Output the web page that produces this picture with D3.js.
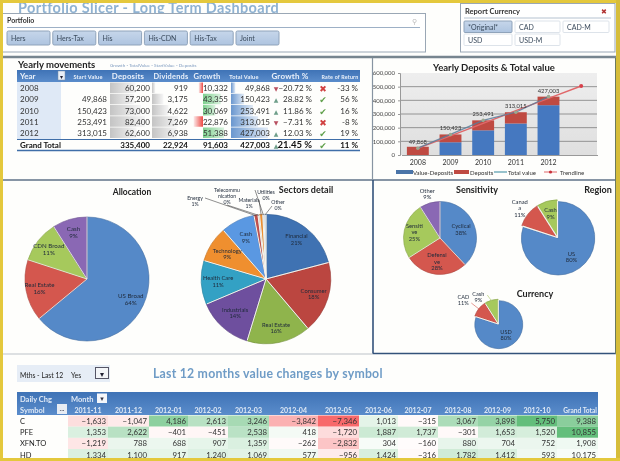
<!DOCTYPE html>
<html><head><meta charset="utf-8">
<script src="https://cdn.jsdelivr.net/npm/d3@7"></script>
<style>
html,body{margin:0;padding:0;background:#fff;overflow:hidden}
svg{display:block;filter:blur(0.4px)}
text{font-family:Lato,"Open Sans",sans-serif}
</style></head><body>
<svg id="c" width="620" height="461"></svg>
<script>
// ---------- DATA ----------
const portfolioButtons = ["Hers","Hers-Tax","His","His-CDN","His-Tax","Joint"];
const currencyButtons = ["*Original*","CAD","CAD-M","USD","USD-M"];

const years = ["2008","2009","2010","2011","2012"];
const startValues = [null,49868,150423,253491,313015];
const deposits = [60200,57200,73000,82400,62600];
const dividends = [919,3175,4622,7269,6938];
const growth = [-10332,43355,30069,-22876,51388];
const totalValues = [49868,150423,253491,313015,427003];
const growthPct = [-20.72,28.82,11.86,-7.31,12.03];
const rateOfReturn = [-33,56,16,-8,19];
const grandTotals = {deposits:335400,dividends:22924,growth:91603,total:427003,pct:21.45,rate:11};

const chartCats = ["2008","2009","2010","2011","2012"," "];
const valueDeposits = [0,93223,180491,230615,364403];
const trendValues = [48000,140000,232000,324000,415000,505000];
const chartTicks = [0,100000,200000,300000,400000,500000,600000];

const allocNames = ["US Broad","Real Estate","CDN Broad","Cash"];
const allocValues = [64,16,11,9];
const sectorNames = ["Financial","Consumer","Real Estate","Industrials","Health Care","Technology","Cash","Energy","Telecommu\nnication","Materials","Utilities","Other"];
const sectorValues = [21,18,16,14,11,9,8.5,1,0.4,0.8,0.3,0.5];
const sectorPctLabels = ["21%","18%","16%","14%","11%","9%","9%","1%","0%","1%","0%","0%"];
const sensNames = ["Cyclical","Defensi\nve","Sensiti\nve","Other"];
const sensValues = [38,28,25,9];
const regionNames = ["US","Canad\na","Cash"];
const regionValues = [80,11,9];
const currNames = ["USD","CAD","Cash"];
const currValues = [80,11,9];

const monthNames = ["2011-11","2011-12","2012-01","2012-02","2012-03","2012-04","2012-05","2012-06","2012-07","2012-08","2012-09","2012-10"];
const symbols = ["C","PFE","XFN.TO","HD"];
const rowC = [-1633,-1047,4186,2613,3246,-3842,-7346,1013,-315,3067,3898,5750];
const rowPFE = [1353,2622,-401,-451,2538,418,-1720,1887,1737,-301,1653,1520];
const rowXFN = [-1219,788,688,907,1359,-262,-2832,304,-160,880,704,752];
const rowHD = [1334,1100,917,1240,1069,577,-956,1424,-316,1782,1412,593];
const rowTotals = [9388,10855,1908,10175];
const rowTotalShades = [0.75,1,0.1,0.05];

// ---------- LAYOUT ----------
const svg = d3.select("#c");
const fmt = d3.format(",");
function T(g,x,y,s,o={}){
  const t=g.append("text").attr("x",x).attr("y",y).text(s)
    .attr("font-size",o.size||7.5).attr("fill",o.fill||"#222")
    .attr("font-weight",o.bold?"700":"400").attr("text-anchor",o.anchor||"start");
  if(o.family) t.style("font-family",o.family);
  if(o.ls) t.attr("letter-spacing",o.ls);
  return t;
}
const defs = svg.append("defs");
function grad(id,c1,c2,vertical){
  const g=defs.append("linearGradient").attr("id",id);
  if(vertical) g.attr("x2",0).attr("y2",1);
  g.append("stop").attr("offset","0").attr("stop-color",c1);
  g.append("stop").attr("offset","1").attr("stop-color",c2);
}
grad("gGray","#c4c4c4","#f6f6f6");
grad("gBlue","#6a97cf","#e2ebf6");
grad("gGreen","#7fd08f","#d9f2de");
grad("gRed","#fbeaea","#ee4a44");
grad("gPlot","#eeeeee","#dfdfdf",true);
grad("gBtn","#c6d6ea","#aec4e0",true);
grad("gHead","#3f73b6","#5a8ccb",true);

svg.append("rect").attr("width",620).attr("height",461).attr("fill","#fefefc");

// top title + slicers
const top_=svg.append("g");
T(top_,18,13,"Portfolio Slicer - Long Term Dashboard",{size:14.5,bold:true,fill:"#8fb2d2",ls:0.35});
top_.append("rect").attr("x",2.5).attr("y",13.5).attr("width",423).attr("height",38.5).attr("fill","#fff").attr("stroke","#9aa7b5");
T(top_,7,23,"Portfolio",{size:7,bold:true,fill:"#333"});
top_.append("line").attr("x1",7).attr("x2",420).attr("y1",27.5).attr("y2",27.5).attr("stroke","#9db0c6");
T(top_,412,24,"⚲",{size:7,fill:"#bbb"});
const pbX=d3.scalePoint().domain(portfolioButtons).range([7,236]);
portfolioButtons.forEach(b=>{
  top_.append("rect").attr("x",pbX(b)).attr("y",31).attr("width",43).attr("height",14).attr("rx",1.5)
    .attr("fill","url(#gBtn)").attr("stroke","#8fa3ba");
  T(top_,pbX(b)+4,41,b,{size:7,fill:"#3a4a5c"});
});
top_.append("rect").attr("x",460.5).attr("y",3.5).attr("width",154.5).attr("height",48.5).attr("fill","#fff").attr("stroke","#9aa7b5");
T(top_,465,14,"Report Currency",{size:7.5,bold:true,fill:"#333"});
T(top_,601,14,"✖",{size:7,fill:"#b03030",family:"DejaVu Sans"});
top_.append("line").attr("x1",464).attr("x2",611).attr("y1",18).attr("y2",18).attr("stroke","#b5c2d0");
const cbPos=[[464,21,48],[515,21,45],[563,21,46],[464,34,48],[515,34,45]];
currencyButtons.forEach((b,i)=>{
  const p=cbPos[i];
  top_.append("rect").attr("x",p[0]).attr("y",p[1]).attr("width",p[2]).attr("height",11.5).attr("rx",1)
    .attr("fill",i==0?"url(#gBtn)":"#fff").attr("stroke",i==0?"#8fa3ba":"#dde3ea");
  T(top_,p[0]+4,p[1]+9,b,{size:7,fill:"#3a4a5c"});
});

// ---------- YEARLY TABLE ----------
const t1=svg.append("g");
T(t1,18,68,"Yearly movements",{size:9.5,bold:true,fill:"#222"});
T(t1,110,67,"Growth - TotalValue - StartValue - Deposits",{size:4.6,fill:"#7f9cc0"});
t1.append("rect").attr("x",17).attr("y",70).attr("width",343).attr("height",12).attr("fill","url(#gHead)");
t1.append("rect").attr("x",17).attr("y",82).attr("width",44).attr("height",57).attr("fill","#dfe9f6");
t1.append("rect").attr("x",58).attr("y",71).attr("width",7).attr("height",9).attr("fill","#e8eef6").attr("stroke","#7a8ea8").attr("stroke-width",0.5);
T(t1,61.5,78.5,"▾",{size:6,fill:"#223",anchor:"middle",family:"DejaVu Sans"});
T(t1,20,79,"Year",{size:8,bold:true,fill:"#e9f0fa"});
[["Start Value",88,5.6],["Deposits",128,7.8],["Dividends",171,7.4],["Growth",207,7.6],["Total Value",244,5.6],["Growth %",290,8],["Rate of Return",340,5.3]]
 .forEach(h=>T(t1,h[1],79,h[0],{size:h[2],bold:true,fill:"#e9f0fa",anchor:"middle",ls:0.2}));

const rowY=d3.scalePoint().domain(years).range([91,136]);
const depBar=d3.scaleLinear().domain([0,d3.max(deposits)]).range([0,35]);
const divBar=d3.scaleLinear().domain([0,d3.max(dividends)]).range([0,26]);
const grBar=d3.scaleLinear().domain([0,d3.max(growth)]).range([0,21]);
const totBar=d3.scaleLinear().domain([0,d3.max(totalValues)]).range([0,37]);
years.forEach((y,i)=>{
  const yy=rowY(y), top=yy-8.5, h=10.5;
  T(t1,20,yy,y,{size:8,fill:"#333"});
  if(startValues[i]!=null) T(t1,107,yy,fmt(startValues[i]),{size:8,fill:"#333",anchor:"end"});
  t1.append("rect").attr("x",110).attr("y",top).attr("width",depBar(deposits[i])).attr("height",h).attr("fill","url(#gGray)");
  T(t1,150,yy,fmt(deposits[i]),{size:8,fill:"#333",anchor:"end"});
  t1.append("rect").attr("x",152).attr("y",top).attr("width",divBar(dividends[i])).attr("height",h).attr("fill","url(#gGray)");
  T(t1,188,yy,fmt(dividends[i]),{size:8,fill:"#333",anchor:"end"});
  const g=growth[i];
  if(g>=0) t1.append("rect").attr("x",203).attr("y",top).attr("width",grBar(g)).attr("height",h).attr("fill","url(#gGreen)");
  else t1.append("rect").attr("x",203-grBar(-g)).attr("y",top).attr("width",grBar(-g)).attr("height",h).attr("fill","url(#gRed)");
  T(t1,228,yy,fmt(Math.abs(g)),{size:8,fill:"#333",anchor:"end"});
  t1.append("rect").attr("x",231).attr("y",top).attr("width",totBar(totalValues[i])).attr("height",h).attr("fill","url(#gBlue)");
  T(t1,270,yy,fmt(totalValues[i]),{size:8,fill:"#333",anchor:"end"});
  const up=growthPct[i]>=0;
  T(t1,276,yy,up?"▲":"▼",{size:6,fill:up?"#6f9f8a":"#b85060",anchor:"middle",family:"DejaVu Sans"});
  T(t1,312,yy,d3.format(".2f")(growthPct[i])+" %",{size:8,fill:"#333",anchor:"end"});
  T(t1,323,yy+1,up?"✔":"✖",{size:9,fill:up?"#5f9f4a":"#d04040",anchor:"middle",family:"DejaVu Sans"});
  T(t1,358,yy,rateOfReturn[i]+" %",{size:8,fill:"#333",anchor:"end"});
});
t1.append("line").attr("x1",17).attr("x2",360).attr("y1",139.5).attr("y2",139.5).attr("stroke","#3f6ea8");
t1.append("line").attr("x1",17).attr("x2",360).attr("y1",150.5).attr("y2",150.5).attr("stroke","#3f6ea8").attr("stroke-width",1.4);
T(t1,20,147.5,"Grand Total",{size:8,bold:true,fill:"#111"});
[[150,grandTotals.deposits],[188,grandTotals.dividends],[228,grandTotals.growth],[270,grandTotals.total]]
 .forEach(d=>T(t1,d[0],147.5,fmt(d[1]),{size:8,bold:true,fill:"#111",anchor:"end"}));
T(t1,276,147.5,"▲",{size:6,fill:"#6f9f8a",anchor:"middle",family:"DejaVu Sans"});
T(t1,312,148,grandTotals.pct+" %",{size:9.5,bold:true,fill:"#111",anchor:"end"});
T(t1,323,148.5,"✔",{size:9,fill:"#5f9f4a",anchor:"middle",family:"DejaVu Sans"});
T(t1,358,147.5,grandTotals.rate+" %",{size:8,bold:true,fill:"#111",anchor:"end"});

// ---------- COMBO CHART ----------
const ch=svg.append("g");
const px0=400,px1=597,py0=155,py1=73;
const xC=d3.scaleBand().domain(chartCats).range([px0+1.5,px1+0.5]).paddingInner(0.33).paddingOuter(0.165);
const yC=d3.scaleLinear().domain([0,600000]).range([py0,py1]);
ch.append("rect").attr("x",px0).attr("y",py1).attr("width",px1-px0).attr("height",py0-py1).attr("fill","url(#gPlot)");
ch.append("g").selectAll("line").data(chartTicks.slice(1,-1)).join("line")
  .attr("x1",px0).attr("x2",px1).attr("y1",d=>yC(d)).attr("y2",d=>yC(d)).attr("stroke","#7d7d7d").attr("stroke-width",0.8);
const yAx=ch.append("g").attr("transform",`translate(${px0},0)`).call(d3.axisLeft(yC).tickValues(chartTicks).tickFormat(fmt).tickSize(2));
yAx.selectAll("text").attr("font-size",6).attr("fill","#444").style("font-family","Lato");
yAx.selectAll("path,line").attr("stroke","#999");
const xAx=ch.append("g").attr("transform",`translate(0,${py0})`).call(d3.axisBottom(xC).tickSize(0).tickPadding(5));
xAx.selectAll("text").attr("font-size",7).attr("fill","#333").style("font-family","Lato");
xAx.select("path").attr("stroke","#999");
T(ch,494,71,"Yearly Deposits & Total value",{size:9.5,bold:true,fill:"#222",anchor:"middle"});
years.forEach((y,i)=>{
  ch.append("rect").attr("x",xC(y)).attr("width",xC.bandwidth()).attr("y",yC(valueDeposits[i])).attr("height",py0-yC(valueDeposits[i])).attr("fill","#4578c0");
  ch.append("rect").attr("x",xC(y)).attr("width",xC.bandwidth())
    .attr("y",yC(valueDeposits[i]+deposits[i])).attr("height",yC(valueDeposits[i])-yC(valueDeposits[i]+deposits[i])).attr("fill","#bf4a42");
});
const cx=d=>xC(d)+xC.bandwidth()/2;
const trendLine=d3.line().x((d,i)=>cx(chartCats[i])).y(d=>yC(d));
ch.append("path").attr("d",trendLine(trendValues)).attr("fill","none").attr("stroke","#e0686a").attr("stroke-width",1.4);
ch.append("path").attr("d",trendLine(totalValues)).attr("fill","none").attr("stroke","#5a7d9a").attr("stroke-width",1.3).attr("opacity",0.85);
ch.append("g").selectAll("circle").data(totalValues).join("circle")
  .attr("cx",(d,i)=>cx(years[i])).attr("cy",d=>yC(d)).attr("r",1.8).attr("fill","#9aa890");
ch.append("circle").attr("cx",cx(chartCats[5])).attr("cy",yC(trendValues[5])).attr("r",2).attr("fill","#d8404a");
years.forEach((y,i)=>T(ch,cx(y),yC(totalValues[i])-4,fmt(totalValues[i]),{size:5.8,fill:"#333",anchor:"middle"}));
// legend
const lg=ch.append("g");
lg.append("rect").attr("x",396).attr("y",170).attr("width",17).attr("height",4).attr("fill","#4a74a8");
T(lg,413,174.5,"Value-Deposits",{size:6,fill:"#333"});
lg.append("rect").attr("x",454).attr("y",170).attr("width",15).attr("height",4).attr("fill","#bf4a42");
T(lg,470,174.5,"Deposits",{size:6,fill:"#333"});
lg.append("line").attr("x1",494).attr("x2",507).attr("y1",172).attr("y2",172).attr("stroke","#6aa8b8").attr("stroke-width",1.4);
T(lg,508,174.5,"Total value",{size:6,fill:"#333"});
lg.append("line").attr("x1",544).attr("x2",557).attr("y1",172).attr("y2",172).attr("stroke","#e0686a").attr("stroke-width",1);
lg.append("circle").attr("cx",550.5).attr("cy",172).attr("r",1.6).attr("fill","#c8303a");
T(lg,560,174.5,"Trendline",{size:6,fill:"#333"});

// ---------- PIES ----------
const pieC={blue:"#5589c8",red:"#d4574e",green:"#a6c95c",purple:"#8a68b4"};
function drawPie(o){
  const g=svg.append("g").attr("transform",`translate(${o.cx},${o.cy})`);
  const arcs=d3.pie().sort(null).value(d=>d)(o.values);
  const a=d3.arc().innerRadius(0).outerRadius(o.r);
  arcs.forEach((d,i)=>{
    const mid=(d.startAngle+d.endAngle)/2, ex=o.explode||0;
    g.append("path").attr("d",a(d))
      .attr("transform",`translate(${Math.sin(mid)*ex},${-Math.cos(mid)*ex})`)
      .attr("fill",o.colors[i]).attr("stroke",d3.color(o.colors[i]).darker(0.6)).attr("stroke-width",0.6);
  });
  arcs.forEach(d=>{
    g.append("line").attr("x2",Math.sin(d.startAngle)*o.r).attr("y2",-Math.cos(d.startAngle)*o.r)
      .attr("stroke","#f4f4ee").attr("stroke-width",o.spoke===undefined?0.8:o.spoke);
  });
  arcs.forEach((d,i)=>{
    const f=(o.labelR&&o.labelR[i]!=null)?o.labelR[i]:(o.defaultR||0.75);
    const rr=o.r*f;
    const c=d3.arc().innerRadius(rr).outerRadius(rr).centroid(d);
    const at=o.labelAt&&o.labelAt[i];
    const lx=at?at[0]:c[0], ly=at?at[1]:c[1];
    const lines=o.names[i].split("\n").concat(o.pct?o.pct[i]:o.values[i]+"%");
    const fs=(at&&o.fsOut)||o.fs||6.2, lh=fs*1.12;
    const ty=ly-(lines.length-1)*lh/2+fs*0.35;
    lines.forEach((s,k)=>T(g,lx,ty+k*lh,s,{size:fs,fill:"#1f2a3a",anchor:"middle"}));
    if(o.leader&&o.leader[i]){
      const e=d3.arc().innerRadius(o.r).outerRadius(o.r).centroid(d);
      g.append("line").attr("x1",lx+o.leader[i][0]).attr("y1",ly+o.leader[i][1]).attr("x2",e[0]).attr("y2",e[1])
        .attr("stroke",o.leaderColored?o.colors[i]:"#444").attr("stroke-width",0.6);
    }
  });
  return g;
}
T(svg,132,195,"Allocation",{size:8.5,bold:true,fill:"#222",anchor:"middle"});
drawPie({cx:87,cy:279,r:62,values:allocValues,names:allocNames,colors:[pieC.blue,pieC.red,pieC.green,pieC.purple],defaultR:0.78});
T(svg,306,193,"Sectors detail",{size:9,bold:true,fill:"#222",anchor:"middle"});
drawPie({cx:266,cy:279,r:64,values:sectorValues,names:sectorNames,pct:sectorPctLabels,
  colors:["#3f72b2","#bb4640","#8fb44c","#6e4f9e","#33a1c4","#ef8f2f","#5a98e2","#c0504d","#e8e8e8","#ef8f2f","#dfe8f2","#c8d6e8"],
  defaultR:0.72,explode:0.8,spoke:1,fs:5.8,fsOut:5.2,
  labelR:[0.78,0.78,0.78,0.72,0.75,0.72,0.72],
  labelAt:[null,null,null,null,null,null,null,[-71,-78],[-39,-83],[-17,-76],[0,-84],[12,-74]],
  leader:[null,null,null,null,null,null,null,[10,-3],[0,9],[10,-3],[-11,-5],[-6,1]]});
T(svg,477,193,"Sensitivity",{size:9,bold:true,fill:"#222",anchor:"middle"});
drawPie({cx:440,cy:238,r:36.5,values:sensValues,names:sensNames,colors:[pieC.blue,pieC.red,pieC.green,pieC.purple],
  labelR:[0.62,0.66,0.72,1.25],fs:5.8});
T(svg,598,193,"Region",{size:9,bold:true,fill:"#222",anchor:"middle"});
drawPie({cx:557.5,cy:237.5,r:36.7,values:regionValues,names:regionNames,colors:[pieC.blue,pieC.red,pieC.green],
  labelR:[0.65,1.3,0.68],explode:1,spoke:1.2,fs:5.8});
T(svg,535,297,"Currency",{size:9,bold:true,fill:"#222",anchor:"middle"});
drawPie({cx:498.3,cy:324,r:24,values:currValues,names:currNames,colors:[pieC.blue,pieC.red,pieC.green],
  labelR:[0.55],labelAt:[null,[-35,-24],[-20,-27]],explode:0.8,spoke:1,fs:5.6,
  leader:[null,[8,3],[9,-2]],leaderColored:true});

// ---------- MONTHLY TABLE ----------
const t2=svg.append("g");
t2.append("rect").attr("x",17).attr("y",365).attr("width",93).attr("height",17).attr("fill","#e6edf6");
T(t2,20,378,"Mths - Last 12",{size:6.8,fill:"#222"});
T(t2,71,378,"Yes",{size:7,fill:"#222"});
t2.append("rect").attr("x",95.5).attr("y",367.5).attr("width",13).attr("height",11).attr("fill","#f3f5f8").attr("stroke","#556");
T(t2,102,376.5,"▾",{size:8,fill:"#223",anchor:"middle",family:"DejaVu Sans"});
T(t2,153,378,"Last 12 months value changes by symbol",{size:12.3,bold:true,fill:"#6f9cc6",ls:0.22});
t2.append("rect").attr("x",17).attr("y",392).attr("width",581).attr("height",23).attr("fill","url(#gHead)");
T(t2,20,402,"Daily Chg",{size:7.5,bold:true,fill:"#dfe9f6"});
T(t2,71,402,"Month",{size:7.5,bold:true,fill:"#dfe9f6"});
t2.append("rect").attr("x",97).attr("y",393.5).attr("width",10).attr("height",9.5).attr("fill","#f4f6fa");
T(t2,102,401,"▾",{size:7,fill:"#334",anchor:"middle",family:"DejaVu Sans"});
T(t2,20,412.5,"Symbol",{size:7.5,bold:true,fill:"#dfe9f6"});
t2.append("rect").attr("x",57).attr("y",404).attr("width",10).attr("height",10).attr("fill","#e7ecf3");
T(t2,62,411,"...",{size:7,fill:"#334",anchor:"middle"});
const colEdges=[68,108,149,188,228,269,318,359,398,438,478,517,557,598];
const colorMain=d3.scaleLinear().domain([-7346,0,5750]).range(["#f8696b","#ffffff","#63be7b"]);
const colorGrand=d3.scaleLinear().domain([0,1]).range(["#ffffff","#63be7b"]);
const rows=[rowC,rowPFE,rowXFN,rowHD];
const rowTop=d3.scalePoint().domain(symbols).range([415.5,449]);
monthNames.forEach((m,j)=>T(t2,(colEdges[j]+colEdges[j+1])/2,412.5,m,{size:7,bold:true,fill:"#dfe9f6",anchor:"middle"}));
T(t2,colEdges[13]-1,412.5,"Grand Total",{size:6.6,bold:true,fill:"#dfe9f6",anchor:"end"});
symbols.forEach((s,i)=>{
  const ty=rowTop(s), h=11.2;
  T(t2,20,ty+8.5,s,{size:7.5,fill:"#222"});
  rows[i].forEach((v,j)=>{
    t2.append("rect").attr("x",colEdges[j]).attr("y",ty).attr("width",colEdges[j+1]-colEdges[j]).attr("height",h).attr("fill",colorMain(v));
    T(t2,colEdges[j+1]-2,ty+8.5,fmt(v),{size:7.8,fill:"#333",anchor:"end"});
  });
  t2.append("rect").attr("x",colEdges[12]).attr("y",ty).attr("width",colEdges[13]-colEdges[12]).attr("height",h).attr("fill",colorGrand(rowTotalShades[i]));
  T(t2,colEdges[13]-2,ty+8.5,fmt(rowTotals[i]),{size:7.8,fill:"#333",anchor:"end"});
});

// ---------- FRAME ----------
const f=svg.append("g");
const ln=(x1,y1,x2,y2,c,w)=>f.append("line").attr("x1",x1).attr("y1",y1).attr("x2",x2).attr("y2",y2).attr("stroke",c).attr("stroke-width",w);
ln(3,57,616,57,"#77858f",2.4);
ln(3,180,616,180,"#5f7288",1.6);
ln(372.5,58,372.5,180,"#8794a2",1.2);
ln(373,180,373,354,"#33527a",1.6);
ln(373,353.5,616,353.5,"#33527a",1.6);
ln(3,354,373,354,"#bcc2c8",1);
ln(615.5,58,615.5,354,"#6b7a60",1);
f.append("rect").attr("x",0).attr("y",0).attr("width",620).attr("height",3).attr("fill","#e4c83c");
f.append("rect").attr("x",0).attr("y",0).attr("width",3).attr("height",461).attr("fill","#e4c83c");
f.append("rect").attr("x",616).attr("y",0).attr("width",4).attr("height",461).attr("fill","#d6bd3a");
f.append("rect").attr("x",0).attr("y",458).attr("width",620).attr("height",3).attr("fill","#e4c83c");
</script></body></html>
